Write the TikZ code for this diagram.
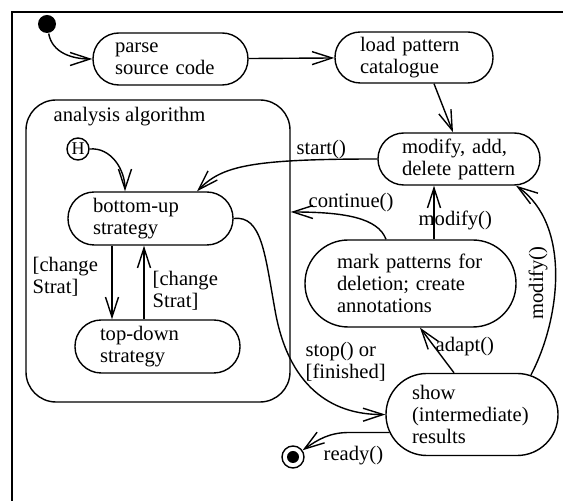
\documentclass[tikz,border=0pt]{standalone}
\usepackage{fontspec}
\setmainfont{Liberation Serif}
\usetikzlibrary{arrows.meta}
\begin{document}
\begin{tikzpicture}[x=0.5pt,y=-0.5pt,line width=0.7pt,
  txt/.style={font=\fontsize{10.3}{11}\selectfont},
  statebox/.style={draw,rectangle,inner xsep=0pt,inner ysep=0pt,align=left,txt},
  lbl/.style={txt,inner sep=0pt,anchor=west,align=left},
  arr/.style={-{Straight Barb[length=10pt,width=6.5pt]}}]
\useasboundingbox (0,0) rectangle (563,501);
% frame
\draw[line width=1pt] (563,12) -- (12,12) -- (12,501);
% composite state
\node[draw,rectangle,rounded corners=15pt,minimum width=132pt,minimum height=151pt] (analysis) at (158,251) {};
\node[lbl] (antitle) at (53,117) {analysis algorithm};
% states
\node[statebox,minimum width=77.5pt,minimum height=26pt,rounded corners=12.9pt,text width=55.5pt] (parse) at (170.5,59) {parse\\source code};
\node[statebox,minimum width=79pt,minimum height=25.5pt,rounded corners=12.6pt,text width=54pt] (load) at (414,57.5) {load pattern\\catalogue};
\node[statebox,minimum width=81pt,minimum height=26pt,rounded corners=12.9pt,text width=57pt] (modify) at (459,159) {modify, add,\\\mbox{delete pattern}};
\node[statebox,minimum width=82.5pt,minimum height=26.5pt,rounded corners=13.1pt,text width=57.5pt] (bottomup) at (150.5,218.5) {bottom-up\\strategy};
\node[statebox,minimum width=82.5pt,minimum height=26.5pt,rounded corners=13.1pt,text width=57.5pt] (topdown) at (157.5,346.5) {top-down\\strategy};
\node[statebox,minimum width=105.5pt,minimum height=43.5pt,rounded corners=21.6pt,text width=73.5pt] (mark) at (410.5,283.5) {\mbox{mark patterns for}\\deletion; create\\annotations};
\node[statebox,minimum width=86pt,minimum height=41pt,rounded corners=20.4pt,text width=60pt] (show) at (472,414.5) {show\\(intermediate)\\results};
% pseudo states
\node[circle,fill,minimum size=9pt,inner sep=0pt] (init) at (47,24) {};
\node[circle,draw,minimum size=11pt,inner sep=0pt,font=\fontsize{9}{9}\selectfont] (hist) at (78,149) {H};
\node[circle,draw,minimum size=11pt,inner sep=0pt] (final) at (293,457) {};
\fill (final.center) circle (3pt);
% transitions
\draw[arr] (init) to[out=-80,in=180] (parse.west);
\draw[arr] (parse) -- (load);
\draw[arr] ([xshift=10pt]load.south) -- ([xshift=-3pt]modify.north);
\draw[arr] (modify.west) .. controls (250,159) and (222,166) .. ([xshift=23.25pt]bottomup.north);
\node[lbl] (lstart) at (296,150) {start()};
\draw[arr] (hist.east) to[out=5,in=90] ([xshift=-12.75pt]bottomup.north);
\coordinate (d1) at ([xshift=-19.25pt]bottomup.south);
\draw[arr] (d1) -- (d1 |- topdown.north);
\coordinate (u1) at ([xshift=-6.75pt]topdown.north);
\draw[arr] (u1) -- (u1 |- bottomup.south);
\node[lbl] (lch1) at (32,277) {{[change}\\Strat]};
\node[lbl] (lch2) at (152,291) {{[change}\\Strat]};
\draw[arr] (bottomup.east) .. controls (262,215) and (265,255) .. (275,310) .. controls (288,385) and (330,415) .. (show.west);
\node[lbl] (lstop) at (305,362) {stop() or\\{}[finished]};
\draw[arr] ([xshift=-12.25pt]mark.north) .. controls (378,218) and (345,212) .. ([yshift=19.5pt]analysis.east);
\node[lbl] (lcont) at (308,203) {continue()};
\coordinate (m2) at ([xshift=11.75pt]mark.north);
\draw[arr] (m2) -- (m2 |- modify.south);
\node[lbl] (lmod1) at (418,220) {modify()};
\draw[arr] ([xshift=-9pt]show.north) -- ([xshift=4.75pt]mark.south);
\node[lbl] (ladapt) at (435,347) {adapt()};
\draw[arr] ([xshift=29.5pt,yshift=-1pt]show.north) .. controls (560,320) and (572,225) .. ([xshift=28.5pt]modify.south);
\node[txt,inner sep=0pt,rotate=90] (lmod2) at (538,283) {modify()};
\draw[arr] ([xshift=2pt,yshift=-9pt]show.west) -- ++(-40,0) to[out=180,in=35] (final);
\node[lbl] (lready) at (323,456) {ready()};
\end{tikzpicture}
\end{document}
